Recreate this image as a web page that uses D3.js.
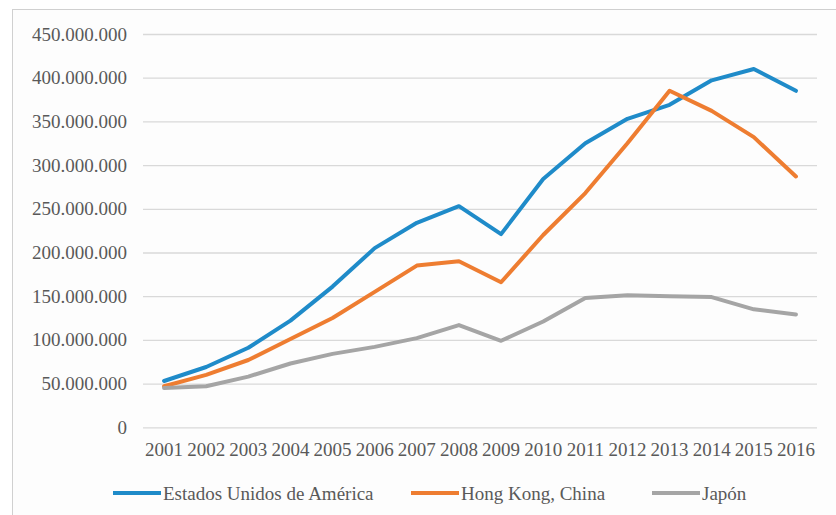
<!DOCTYPE html>
<html>
<head>
<meta charset="utf-8">
<script src="https://cdn.jsdelivr.net/npm/d3@7"></script>
</head>
<body style="margin:0">
<svg id="s" width="836" height="515" font-family="Liberation Serif"></svg>
<script>
// data
const years = ["2001","2002","2003","2004","2005","2006","2007","2008","2009","2010","2011","2012","2013","2014","2015","2016"];
const usa = [53e6, 69e6, 91e6, 122e6, 161e6, 205e6, 234e6, 253e6, 221e6, 284e6, 325e6, 353e6, 369e6, 397e6, 410e6, 385e6];
const hongKong = [47e6, 60e6, 77e6, 101e6, 125e6, 155e6, 185e6, 190e6, 166e6, 220e6, 268e6, 325e6, 385e6, 362e6, 332e6, 287e6];
const japon = [45e6, 47e6, 58e6, 73e6, 84e6, 92e6, 102e6, 117e6, 99e6, 121e6, 148e6, 151e6, 150e6, 149e6, 135e6, 129e6];
const yTicks = [0, 50e6, 100e6, 150e6, 200e6, 250e6, 300e6, 350e6, 400e6, 450e6];
const seriesNames = ["Estados Unidos de América", "Hong Kong, China", "Japón"];

const width = 836, height = 515;
const margin = {top: 34, right: 19, bottom: 88, left: 143};
const colors = ["#1f8bc9", "#ee7d31", "#a5a5a5"];

const svg = d3.select("#s").style("display", "block");

// frame of the chart area
svg.append("rect")
    .attr("x", 12.5)
    .attr("y", 9.5)
    .attr("width", width)
    .attr("height", height)
    .attr("fill", "#fdfdfd")
    .attr("stroke", "#d0d0d0");

const x = d3.scaleBand()
    .domain(years)
    .range([margin.left, width - margin.right]);

const y = d3.scaleLinear()
    .domain([0, 450e6])
    .range([height - margin.bottom + 0.3, margin.top]);

const fmt = v => v === 0 ? "0" : d3.format(",")(v).replace(/,/g, ".");

// Y axis with gridlines
const yAxis = d3.axisLeft(y)
    .tickValues(yTicks)
    .tickSize(-(width - margin.left - margin.right))
    .tickPadding(16)
    .tickFormat(fmt);

svg.append("g")
    .attr("transform", `translate(${margin.left}, 0)`)
    .call(yAxis)
    .call(g => g.select(".domain").remove())
    .call(g => g.selectAll(".tick line").attr("stroke", "#d9d9d9").attr("stroke-width", 1.3));

// X axis labels
svg.append("g")
    .attr("transform", `translate(0, ${height - margin.bottom})`)
    .call(d3.axisBottom(x).tickSize(0).tickPadding(16))
    .call(g => g.select(".domain").remove());

// Lines
const line = d3.line()
    .x((d, i) => x(years[i]) + x.bandwidth() / 2)
    .y(d => y(d));

[usa, hongKong, japon].forEach((s, i) => {
    svg.append("path")
        .datum(s)
        .attr("fill", "none")
        .attr("stroke", colors[i])
        .attr("stroke-width", 4)
        .attr("stroke-linejoin", "round")
        .attr("stroke-linecap", "round")
        .attr("d", line);
});

// Legend
const legendX = [113, 411, 652];
const legend = svg.append("g").attr("transform", "translate(0, 493)");
seriesNames.forEach((name, i) => {
    legend.append("line")
        .attr("x1", legendX[i])
        .attr("x2", legendX[i] + 48)
        .attr("stroke", colors[i])
        .attr("stroke-width", 4);
    legend.append("text")
        .attr("x", legendX[i] + 50)
        .attr("dy", "0.35em")
        .text(name);
});

// same serif face on every label
svg.selectAll("g").attr("font-family", null).attr("font-size", null);
svg.selectAll("text")
    .attr("font-family", "Liberation Serif")
    .style("font-family", "'Liberation Serif', serif")
    .attr("font-size", 19)
    .attr("fill", "#595959");
</script>
</body>
</html>
